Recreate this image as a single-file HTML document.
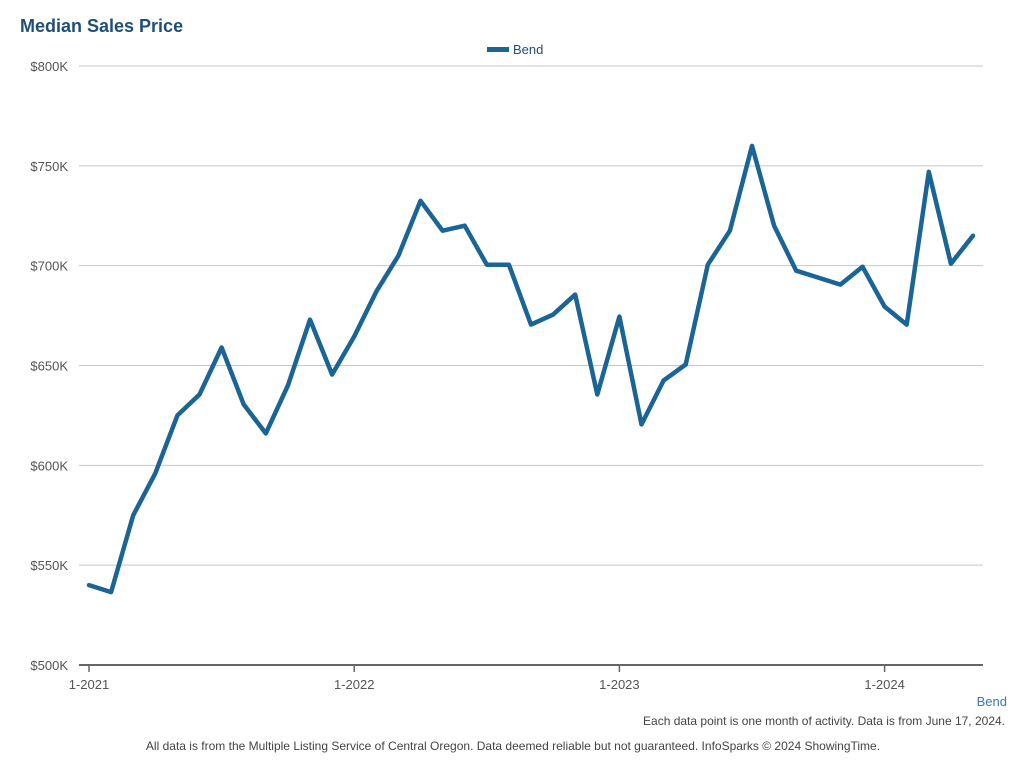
<!DOCTYPE html>
<html><head><meta charset="utf-8">
<style>
body{margin:0;background:#fff;font-family:"Liberation Sans",Arial,sans-serif;}
svg{display:block}
</style></head>
<body>
<svg id="chart" width="1024" height="767">
  <text x="20" y="32" font-size="18" font-weight="bold" fill="#1f4e79">Median Sales Price</text>
  <g>
    <rect x="487" y="47" width="22" height="5" fill="#1a6496"></rect>
    <text x="513" y="54" font-size="13" fill="#1f4e79">Bend</text>
  </g>
  <g id="grid"></g>
  <g id="yticks"></g>
  <g id="xticks"></g>
  <path id="line" fill="none" stroke="#1a6496" stroke-width="4.5" stroke-linejoin="round" stroke-linecap="round"></path>
  <text x="1007" y="706" font-size="13" fill="#3d7ab8" text-anchor="end">Bend</text>
  <text x="1005" y="725" font-size="12" fill="#444" text-anchor="end">Each data point is one month of activity. Data is from June 17, 2024.</text>
  <text x="513" y="750" font-size="12" fill="#444" text-anchor="middle">All data is from the Multiple Listing Service of Central Oregon. Data deemed reliable but not guaranteed. InfoSparks © 2024 ShowingTime.</text>
</svg>
<script>
const values = [540,536.5,575,596,625,635.5,659,630.5,616,640,673,645.5,
664.5,687,705,732.5,717.5,720,700.5,700.5,670.5,675.5,685.5,635.5,
674.5,620.5,642.5,650.5,700.5,717.5,760,720,697.5,694,690.5,699.5,
679.5,670.5,747,701,715];
const yTicks = [500,550,600,650,700,750,800];
const yTickLabels = ["$500K","$550K","$600K","$650K","$700K","$750K","$800K"];
const xTickIdx = [0,12,24,36];
const xTickLabels = ["1-2021","1-2022","1-2023","1-2024"];

const NS="http://www.w3.org/2000/svg";
const left=79,right=983,x0=89,step=22.1,yTop=66,yBot=665,vMin=500,vMax=800;
const X=i=>x0+i*step;
const Y=v=>yBot-(v-vMin)/(vMax-vMin)*(yBot-yTop);
function mk(tag,attrs,parent){const e=document.createElementNS(NS,tag);for(const k in attrs)e.setAttribute(k,attrs[k]);parent.appendChild(e);return e;}
const grid=document.getElementById('grid'),yt=document.getElementById('yticks'),xt=document.getElementById('xticks');
yTicks.forEach((v,i)=>{
  const l=mk('line',{x1:left,x2:right,y1:Y(v),y2:Y(v),stroke:i===0?'#666':'#c8c8c8','stroke-width':i===0?2:1},grid);
  
  
  const t=mk('text',{x:68,y:Y(v)+5,'font-size':13,fill:'#555','text-anchor':'end'},yt);
  t.textContent=yTickLabels[i];
  
  
});
xTickIdx.forEach((idx,i)=>{
  const tk=mk('line',{x1:X(idx),x2:X(idx),y1:yBot,y2:yBot+7,stroke:'#666','stroke-width':1.5},xt);
  
  
  const t=mk('text',{x:X(idx),y:yBot+24,'font-size':13,fill:'#555','text-anchor':'middle'},xt);
  t.textContent=xTickLabels[i];
  
  
});
document.getElementById('line').setAttribute('d',values.map((v,i)=>(i?'L':'M')+X(i).toFixed(1)+','+Y(v).toFixed(1)).join(''));
</script>
</body></html>
